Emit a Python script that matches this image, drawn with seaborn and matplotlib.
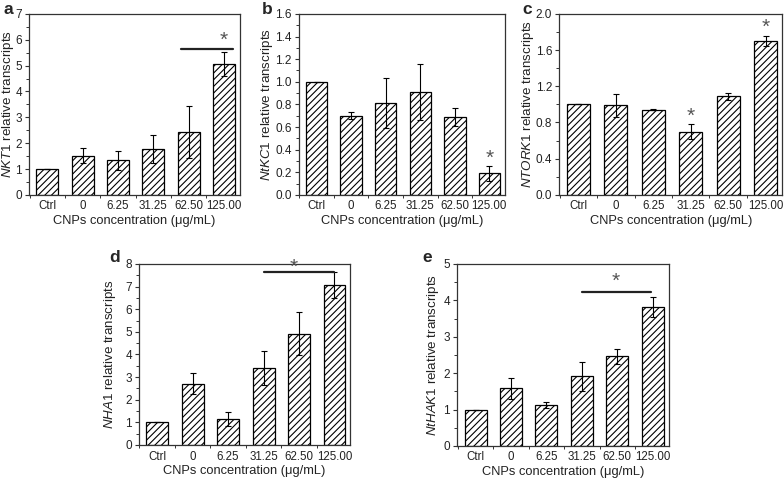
"""
CNPs concentration vs relative transcripts (5 genes)
"""
import numpy as np
import matplotlib
matplotlib.use("Agg")
import matplotlib.pyplot as plt
from matplotlib.ticker import MultipleLocator, FormatStrFormatter
import seaborn as sns

categories = ["Ctrl", "0", "6.25", "31.25", "62.50", "125.00"]

nkt1_mean = [1.00, 1.52, 1.34, 1.78, 2.44, 5.05]
nkt1_err  = [0.00, 0.29, 0.36, 0.54, 1.00, 0.47]

ntkc1_mean = [1.00, 0.70, 0.81, 0.91, 0.69, 0.19]
ntkc1_err  = [0.00, 0.03, 0.22, 0.25, 0.08, 0.065]

ntork1_mean = [1.00, 0.99, 0.94, 0.70, 1.09, 1.70]
ntork1_err  = [0.00, 0.13, 0.005, 0.08, 0.04, 0.06]

nha1_mean = [1.00, 2.71, 1.13, 3.42, 4.91, 7.07]
nha1_err  = [0.00, 0.45, 0.31, 0.75, 0.95, 0.57]

nthak1_mean = [1.00, 1.58, 1.13, 1.92, 2.46, 3.81]
nthak1_err  = [0.00, 0.29, 0.08, 0.40, 0.21, 0.27]

sns.set_theme(style="white")
plt.rcParams["font.family"] = ["Liberation Sans", "DejaVu Sans"]
plt.rcParams["mathtext.fontset"] = "custom"
plt.rcParams["mathtext.rm"] = "Liberation Sans"
plt.rcParams["mathtext.it"] = "Liberation Sans:italic"
plt.rcParams["hatch.linewidth"] = 0.8

EDGE = "#333333"
W, H = 784, 480


def draw_panel(ax, gene, means, errs, ymax, major, minor, fmt, label_x,
               sig_line=None, star_idx=()):
    sns.barplot(x=categories, y=means, ax=ax, color="white", saturation=1,
                edgecolor="black", linewidth=0.9, hatch="/////", width=0.62,
                errorbar=None)
    ax.errorbar(np.arange(len(categories)), means, yerr=errs, fmt="none",
                ecolor="black", elinewidth=0.8, capsize=2.2, capthick=0.8)

    ax.set_xlim(-0.52, 5.45)
    ax.set_ylim(0, ymax)
    ax.yaxis.set_major_locator(MultipleLocator(major))
    ax.yaxis.set_minor_locator(MultipleLocator(minor))
    ax.yaxis.set_major_formatter(FormatStrFormatter(fmt))
    ax.xaxis.set_minor_locator(MultipleLocator(1, offset=0.5))
    ax.tick_params(axis="y", which="major", direction="out", length=3,
                   width=0.8, color=EDGE, labelsize=8.5, pad=2, left=True,
                   labelcolor="#222222")
    ax.tick_params(axis="y", which="minor", direction="out", length=2,
                   width=0.7, color=EDGE, left=True)
    ax.tick_params(axis="x", which="major", length=0, labelsize=8.3, pad=4,
                   labelcolor="#222222")
    ax.tick_params(axis="x", which="minor", direction="out", length=2,
                   width=0.7, color=EDGE, bottom=True)
    for s in ax.spines.values():
        s.set_color(EDGE)
        s.set_linewidth(0.9)

    ax.set_xlabel("CNPs concentration (\u03bcg/mL)", fontsize=9.3, labelpad=2,
                  color="#222222")
    ax.set_ylabel(r"$\it{" + gene + "}$ relative transcripts", fontsize=9.6,
                  color="#222222")
    ax.yaxis.set_label_coords(label_x, 0.5)

    if sig_line is not None:
        x0, x1, y, xs, ys = sig_line
        ax.plot([x0, x1], [y, y], color="#222222", lw=1.6)
        ax.text(xs, ys, "*", ha="center", va="center", fontsize=15,
                color="#555555")
    else:
        for i in star_idx:
            top = means[i] + errs[i]
            ax.text(i, top + ymax * 0.045, "*", ha="center", va="center",
                    fontsize=15, color="#555555")


fig = plt.figure(figsize=(7.84, 4.80), dpi=100)
ax_a = fig.add_axes([0.037, 0.594, 0.269, 0.377])
ax_b = fig.add_axes([0.381, 0.594, 0.263, 0.377])
ax_c = fig.add_axes([0.713, 0.594, 0.285, 0.377])
ax_d = fig.add_axes([0.177, 0.073, 0.270, 0.377])
ax_e = fig.add_axes([0.583, 0.071, 0.270, 0.379])

draw_panel(ax_a, "NKT1", nkt1_mean, nkt1_err, 7, 1, 0.5, "%d", -0.062,
           sig_line=(3.77, 5.25, 5.66, 5.0, 5.97))
draw_panel(ax_b, "NtKC1", ntkc1_mean, ntkc1_err, 1.6, 0.2, 0.1, "%.1f",
           -0.117, star_idx=(5,))
draw_panel(ax_c, "NTORK1", ntork1_mean, ntork1_err, 2.0, 0.4, 0.2, "%.1f",
           -0.103, star_idx=(3, 5))
draw_panel(ax_d, "NHA1", nha1_mean, nha1_err, 8, 1, 0.5, "%d", -0.099,
           sig_line=(3.0, 5.0, 7.65, 3.85, 7.85))
draw_panel(ax_e, "NtHAK1", nthak1_mean, nthak1_err, 5, 1, 0.5, "%d", -0.075,
           sig_line=(3.0, 4.95, 4.23, 3.95, 4.52))

# panel letters, placed in pixels from the top-left corner
for letter, px, py in [("a", 4, 2), ("b", 262, 2), ("c", 522, 2),
                       ("d", 109, 250), ("e", 422, 250)]:
    fig.text(px / W, 1 - py / H, letter, fontsize=12.5, fontweight="bold",
             ha="left", va="top")

fig.savefig("out.png", dpi=100)
plt.close(fig)
